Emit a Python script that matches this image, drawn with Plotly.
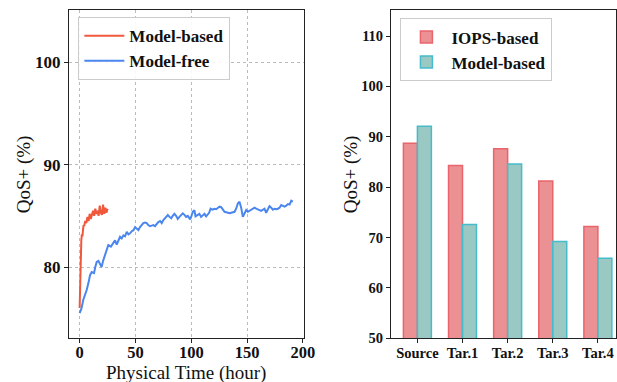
import plotly.graph_objects as go

# ---- Left panel: QoS+ over physical time ----
mb_time = [0, 0.5, 1, 1.5, 2, 2.5, 3, 3.5, 4, 5, 6, 7, 8, 9, 10, 11, 12, 13, 14, 15,
           16, 17, 18, 19, 20, 21, 22, 23, 24, 25]
mb_qos = [76.0, 79.5, 81.8, 82.6, 83.2, 83.0, 83.6, 84.1, 84.0, 84.5, 84.3, 84.9, 84.5,
          85.2, 84.7, 85.1, 85.5, 85.0, 85.7, 85.2, 85.5, 85.0, 86.0, 85.3, 85.1, 86.1,
          85.2, 85.8, 85.3, 85.7]

mf_time = [0, 1.5, 3.3, 5, 6.3, 8, 9.3, 10.8, 12.9, 14, 15.3, 16.8, 18, 19.7, 21, 22.8,
           24, 25.7, 28, 30.2, 31.7, 33.2, 34.7, 36.2, 37.7, 39.2, 40.7, 42.2, 43.7, 45.2,
           46.7, 48.2, 49.7, 51.1, 52.6, 54.1, 55.6, 57.1, 58.6, 60.1, 61.5, 63, 64.5, 66,
           67.5, 69, 70.5, 72.1, 73.5, 75, 77, 79, 80.5, 82, 83.4, 84.9, 86.4, 87.9, 89.4,
           90.9, 92.4, 93.9, 95.4, 96.9, 99, 100.2, 101.4, 102.8, 103.8, 105.8, 107.3,
           108.8, 110.3, 111.8, 113.3, 114.8, 116, 117.3, 119, 120.9, 122.3, 124, 125.3,
           126.8, 128.3, 129.8, 131.3, 132.8, 134.3, 135.8, 137.3, 138.8, 140.2, 141.7,
           143.2, 144.7, 146.2, 147.7, 149.2, 150.7, 152.2, 153.7, 155.2, 156.7, 158.2,
           159.6, 161.1, 162.6, 164.1, 165.6, 167.1, 168.6, 170.1, 171.6, 173.1, 174.6,
           176.1, 177.6, 179.1, 180.6, 182.1, 183.6, 185.1, 186.6, 188.1, 189.6, 191]
mf_qos = [75.5, 75.9, 76.8, 77.3, 77.75, 78.5, 79.2, 79.5, 79.4, 80.0, 80.5, 80.6, 80.3,
          80.0, 80.6, 81.2, 81.7, 82.15, 82.0, 82.3, 82.6, 82.2, 82.6, 82.96, 82.8, 83.1,
          83.0, 83.45, 83.2, 83.3, 83.5, 83.6, 83.9, 83.7, 83.6, 83.9, 84.1, 84.3, 84.35,
          84.3, 84.1, 84.0, 84.05, 84.1, 84.0, 84.27, 84.4, 84.5, 84.3, 84.6, 84.8, 85.08,
          84.9, 84.76, 85.0, 85.2, 85.0, 84.7, 84.9, 85.1, 85.25, 85.1, 84.9, 85.0, 84.66,
          85.0, 85.4, 85.55, 84.95, 85.1, 85.2, 84.9, 85.1, 85.2, 84.95, 85.1, 85.3, 85.7,
          85.6, 85.7, 85.65, 85.8, 85.9, 85.85, 85.6, 85.4, 85.35, 85.3, 85.25, 85.3, 85.35,
          85.4, 85.7, 86.2, 86.38, 85.8, 84.9, 85.3, 85.57, 85.4, 85.5, 85.6, 85.7, 85.8,
          85.7, 85.6, 85.57, 85.5, 85.6, 85.7, 85.3, 85.7, 85.96, 85.8, 85.6, 85.7, 85.65,
          85.7, 85.8, 86.06, 85.95, 85.9, 86.0, 86.15, 86.1, 86.48, 86.4]

# ---- Right panel: QoS+ per domain ----
domains = ["Source", "Tar.1", "Tar.2", "Tar.3", "Tar.4"]
iops_based = [88.7, 84.3, 87.6, 81.2, 72.2]
model_based = [92.1, 72.6, 84.6, 69.2, 65.9]

SERIF = "Liberation Serif, Times New Roman, serif"
RED_LINE = "#F0583C"
BLUE_LINE = "#4A86EE"
BAR_W = 0.31

fig = go.Figure()

fig.add_trace(go.Scatter(x=mb_time, y=mb_qos, mode="lines", name="Model-based",
                         line=dict(color=RED_LINE, width=2), xaxis="x", yaxis="y",
                         legend="legend"))
fig.add_trace(go.Scatter(x=mf_time, y=mf_qos, mode="lines", name="Model-free",
                         line=dict(color=BLUE_LINE, width=2), xaxis="x", yaxis="y",
                         legend="legend"))

fig.add_trace(go.Bar(x=[i - BAR_W / 2 for i in range(len(domains))], y=iops_based,
                     base=0, width=BAR_W, name="IOPS-based",
                     marker=dict(color="rgba(232,124,128,0.85)",
                                 line=dict(color="#E8656B", width=1.5)),
                     xaxis="x2", yaxis="y2", legend="legend2"))
fig.add_trace(go.Bar(x=[i + BAR_W / 2 for i in range(len(domains))], y=model_based,
                     base=0, width=BAR_W, name="Model-based",
                     marker=dict(color="rgba(140,194,188,0.88)",
                                 line=dict(color="#45BBCB", width=1.5)),
                     xaxis="x2", yaxis="y2", legend="legend2"))

frame = dict(showline=True, linecolor="#222", linewidth=1, mirror=True,
             ticks="outside", ticklen=4, tickcolor="#222", zeroline=False,
             automargin=False)
grid = dict(showgrid=True, gridcolor="#BBBBBB", griddash="3px,3px", gridwidth=0.8)
title_font = dict(family=SERIF, size=19, color="#111")


def tick_font(size):
    return dict(family=SERIF, size=size, color="#111", weight="bold")


legend_font = dict(family=SERIF, size=17, color="#111", weight="bold")

LEFT_X = [0.1118, 0.4919]
RIGHT_X = [0.6337, 0.999]
PLOT_Y = [0.1144, 0.973]

fig.update_layout(
    width=617, height=382,
    margin=dict(l=0, r=0, t=0, b=0),
    paper_bgcolor="white", plot_bgcolor="white",
    font=dict(family=SERIF, color="#111"),
    barmode="overlay",
    xaxis=dict(domain=LEFT_X, range=[-9.55, 200.55],
               tickvals=[0, 50, 100, 150, 200], tickfont=tick_font(16.5),
               ticklabelstandoff=-5, **frame, **grid),
    yaxis=dict(domain=PLOT_Y, range=[73.03, 105.1],
               tickvals=[80, 90, 100], tickfont=tick_font(17),
               **frame, **grid),
    xaxis2=dict(domain=RIGHT_X, range=[-0.585, 4.41],
                tickvals=list(range(len(domains))), ticktext=domains,
                tickfont=tick_font(14.5), showgrid=False, ticklabelstandoff=-3,
                **frame),
    yaxis2=dict(domain=PLOT_Y, range=[50, 115.1], anchor="x2",
                tickvals=[50, 60, 70, 80, 90, 100, 110], tickfont=tick_font(14.5),
                showgrid=False, **frame),
    legend=dict(x=0.127, y=0.955, xanchor="left", yanchor="top",
                bgcolor="rgba(255,255,255,0.9)", bordercolor="#CCCCCC", borderwidth=1,
                font=legend_font, tracegroupgap=0, itemwidth=40),
    legend2=dict(x=0.649, y=0.952, xanchor="left", yanchor="top",
                 bgcolor="rgba(255,255,255,0.9)", bordercolor="#CCCCCC", borderwidth=1,
                 font=legend_font, tracegroupgap=0, itemwidth=40),
)

# Axis titles placed as paper-anchored labels
mid_y = (PLOT_Y[0] + PLOT_Y[1]) / 2
fig.add_annotation(text="Physical Time (hour)", xref="paper", yref="paper",
                   x=(LEFT_X[0] + LEFT_X[1]) / 2, y=1 - 372.5 / 382,
                   xanchor="center", yanchor="middle", showarrow=False, font=title_font)
fig.add_annotation(text="QoS+ (%)", xref="paper", yref="paper",
                   x=24 / 617, y=mid_y, textangle=-90,
                   xanchor="center", yanchor="middle", showarrow=False, font=title_font)
fig.add_annotation(text="QoS+ (%)", xref="paper", yref="paper",
                   x=351 / 617, y=mid_y, textangle=-90,
                   xanchor="center", yanchor="middle", showarrow=False, font=title_font)

fig.write_html("out.html")
